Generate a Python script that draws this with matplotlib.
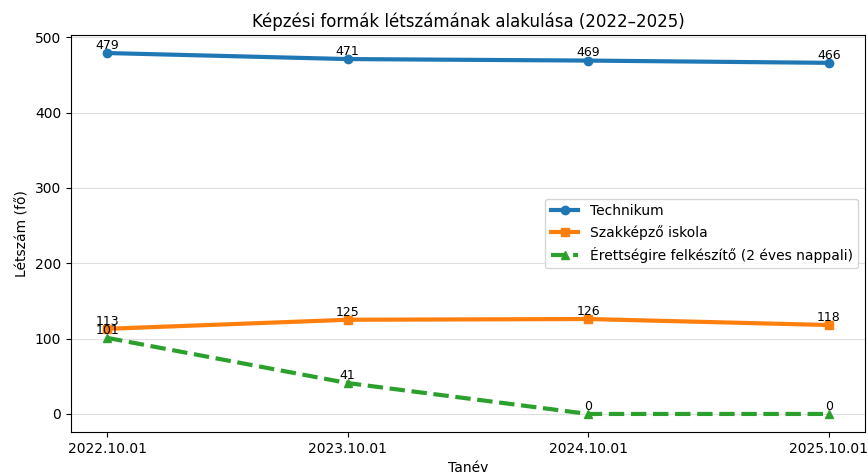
import matplotlib
matplotlib.use("Agg")
import matplotlib.pyplot as plt

tanev = ["2022.10.01", "2023.10.01", "2024.10.01", "2025.10.01"]
technikum = [479, 471, 469, 466]
szakkepzo = [113, 125, 126, 118]
erettsegi = [101, 41, 0, 0]

fig = plt.figure(figsize=(8.68, 4.73), dpi=100)
ax = fig.add_axes([71 / 868, 41 / 473, 794 / 868, 397 / 473])

ax.plot(tanev, technikum, marker="o", linewidth=3, label="Technikum")
ax.plot(tanev, szakkepzo, marker="s", linewidth=3, label="Szakképző iskola")
ax.plot(tanev, erettsegi, marker="^", linewidth=3, linestyle="--",
        label="Érettségire felkészítő (2 éves nappali)")

for sor in (technikum, szakkepzo, erettsegi):
    for x, y in zip(tanev, sor):
        ax.annotate(str(y), (x, y), textcoords="offset points", xytext=(0, 3),
                    ha="center", fontsize=9)

ax.set_title("Képzési formák létszámának alakulása (2022–2025)")
ax.set_xlabel("Tanév")
ax.set_ylabel("Létszám (fő)")
ax.grid(axis="y", alpha=0.4)
ax.legend(loc="center right")

fig.savefig("out.png", dpi=100)
